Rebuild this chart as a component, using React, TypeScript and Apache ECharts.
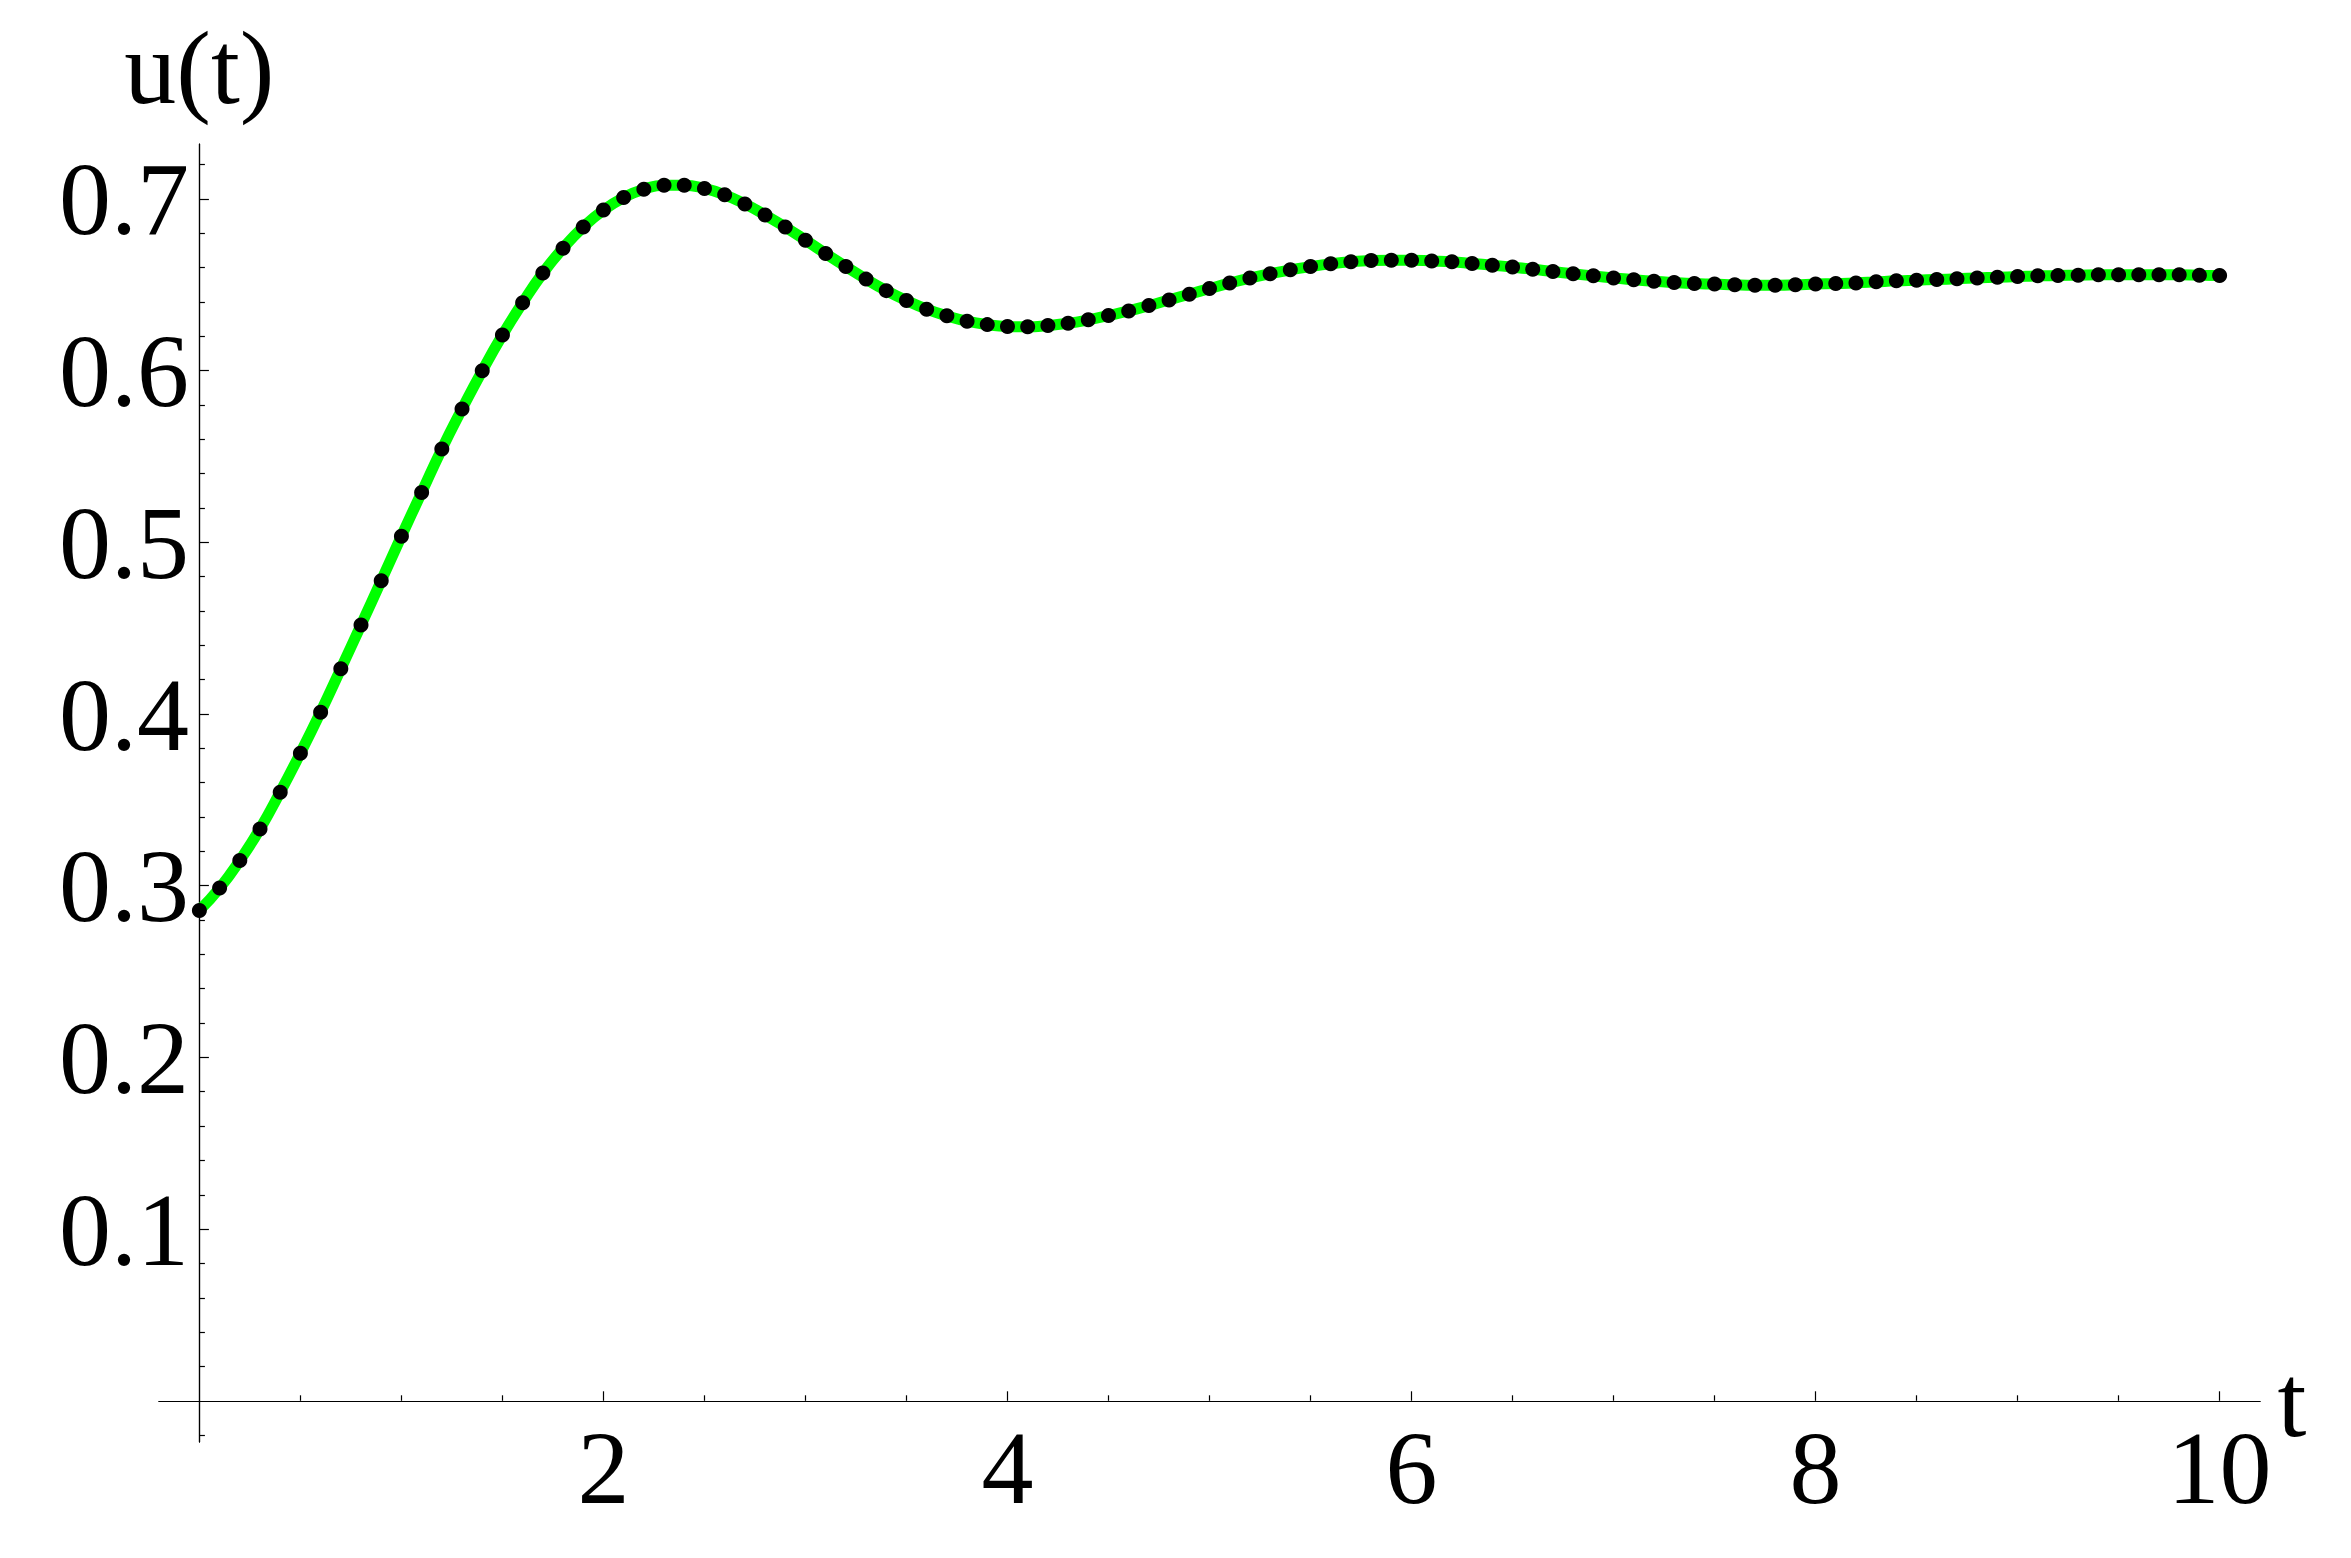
import React, { useEffect, useRef } from "react";
import * as echarts from "echarts";

// sample times t (step 0.1 from 0 to 10)
const tValues: number[] = Array.from({ length: 101 }, (_, i) => i / 10);

// u(t)
const uValues: number[] = [
  0.2856, 0.2986, 0.3147, 0.3331, 0.3545, 0.3772, 0.4011, 0.4263, 0.4518, 0.4776,
  0.5036, 0.529, 0.5543, 0.5776, 0.5999, 0.6207, 0.6395, 0.6568, 0.6713, 0.6836,
  0.6935, 0.7008, 0.7057, 0.708, 0.708, 0.7061, 0.7024, 0.6971, 0.6907, 0.6836,
  0.676, 0.6682, 0.6606, 0.6533, 0.6466, 0.6408, 0.6358, 0.6319, 0.6288, 0.6268,
  0.6257, 0.6255, 0.6263, 0.6276, 0.6296, 0.6321, 0.6348, 0.6379, 0.6412, 0.6445,
  0.6478, 0.651, 0.6539, 0.6564, 0.6587, 0.6606, 0.6622, 0.6634, 0.6641, 0.6643,
  0.6643, 0.6639, 0.6634, 0.6624, 0.6614, 0.6603, 0.6591, 0.6577, 0.6564, 0.6552,
  0.654, 0.6529, 0.6521, 0.6513, 0.6507, 0.6504, 0.65, 0.6498, 0.6498, 0.65,
  0.6504, 0.6507, 0.6511, 0.6517, 0.6523, 0.6527, 0.6531, 0.6535, 0.654, 0.6544,
  0.6548, 0.6552, 0.6554, 0.6556, 0.6558, 0.6558, 0.6558, 0.6558, 0.6558, 0.6556,
  0.6554,
];

const xMajorTicks: number[] = [2, 4, 6, 8, 10];
const xMinorTicks: number[] = [0.5, 1, 1.5, 2.5, 3, 3.5, 4.5, 5, 5.5, 6.5, 7, 7.5, 8.5, 9, 9.5];
const yMajorTicks: number[] = [0.1, 0.2, 0.3, 0.4, 0.5, 0.6, 0.7];
const yMinorTicks: number[] = [
  -0.02, 0.02, 0.04, 0.06, 0.08, 0.12, 0.14, 0.16, 0.18, 0.22, 0.24, 0.26, 0.28,
  0.32, 0.34, 0.36, 0.38, 0.42, 0.44, 0.46, 0.48, 0.52, 0.54, 0.56, 0.58,
  0.62, 0.64, 0.66, 0.68, 0.72,
];

const X_MIN = -0.2;
const X_MAX = 10.2;
const Y_MIN = -0.024;
const Y_MAX = 0.732;

const FONT = "'Liberation Serif', 'Times New Roman', serif";
const FS = 104;

export default function App() {
  const ref = useRef<HTMLDivElement>(null);

  useEffect(() => {
    if (!ref.current) return;
    const chart = echarts.init(ref.current, undefined, { renderer: "svg" });

    const axisLine = {
      show: true,
      onZero: true,
      onZeroAxisIndex: 0,
      lineStyle: { color: "#000", width: 1.2 },
    };

    chart.setOption({
      animation: false,
      backgroundColor: "#fff",
      grid: { left: 159, right: 91, top: 144, bottom: 116, containLabel: false },
      xAxis: [
        {
          type: "value",
          position: "bottom",
          min: X_MIN,
          max: X_MAX,
          axisLine,
          splitLine: { show: false },
          axisTick: {
            show: true,
            inside: true,
            length: 9.5,
            customValues: xMajorTicks,
            lineStyle: { color: "#000", width: 1.2 },
          },
          axisLabel: {
            show: true,
            customValues: xMajorTicks,
            margin: -27,
            color: "#000",
            fontFamily: FONT,
            fontSize: FS,
            formatter: (v: number) => String(Math.round(v)),
          },
          name: "t",
          nameLocation: "end",
          nameGap: 17,
          nameTextStyle: {
            color: "#000",
            fontFamily: FONT,
            fontSize: FS,
            padding: [8, 0, 0, 0],
          },
        },
        {
          type: "value",
          position: "bottom",
          min: X_MIN,
          max: X_MAX,
          axisLine,
          splitLine: { show: false },
          axisTick: {
            show: true,
            inside: true,
            length: 5.5,
            customValues: xMinorTicks,
            lineStyle: { color: "#000", width: 1.2 },
          },
          axisLabel: { show: false },
        },
      ],
      yAxis: [
        {
          type: "value",
          position: "left",
          min: Y_MIN,
          max: Y_MAX,
          axisLine,
          splitLine: { show: false },
          axisTick: {
            show: true,
            inside: true,
            length: 9.5,
            customValues: yMajorTicks,
            lineStyle: { color: "#000", width: 1.2 },
          },
          axisLabel: {
            show: true,
            customValues: yMajorTicks,
            margin: -30,
            color: "#000",
            fontFamily: FONT,
            fontSize: FS,
            formatter: (v: number) => v.toFixed(1),
          },
          name: "u(t)",
          nameLocation: "end",
          nameGap: 25,
          nameTextStyle: {
            color: "#000",
            fontFamily: FONT,
            fontSize: FS,
          },
        },
        {
          type: "value",
          position: "left",
          min: Y_MIN,
          max: Y_MAX,
          axisLine,
          splitLine: { show: false },
          axisTick: {
            show: true,
            inside: true,
            length: 5.5,
            customValues: yMinorTicks,
            lineStyle: { color: "#000", width: 1.2 },
          },
          axisLabel: { show: false },
        },
      ],
      series: [
        {
          type: "line",
          xAxisIndex: 0,
          yAxisIndex: 0,
          data: tValues.map((t, i) => [t, uValues[i]]),
          smooth: true,
          showSymbol: true,
          symbol: "circle",
          symbolSize: 15,
          lineStyle: { color: "#00ff00", width: 11 },
          itemStyle: { color: "#000", borderWidth: 0 },
          clip: false,
          z: 3,
        },
      ],
    });

    return () => chart.dispose();
  }, []);

  return (
    <div
      ref={ref}
      style={{
        position: "fixed",
        left: 0,
        top: 0,
        width: "2351px",
        height: "1558px",
        background: "#fff",
      }}
    />
  );
}
